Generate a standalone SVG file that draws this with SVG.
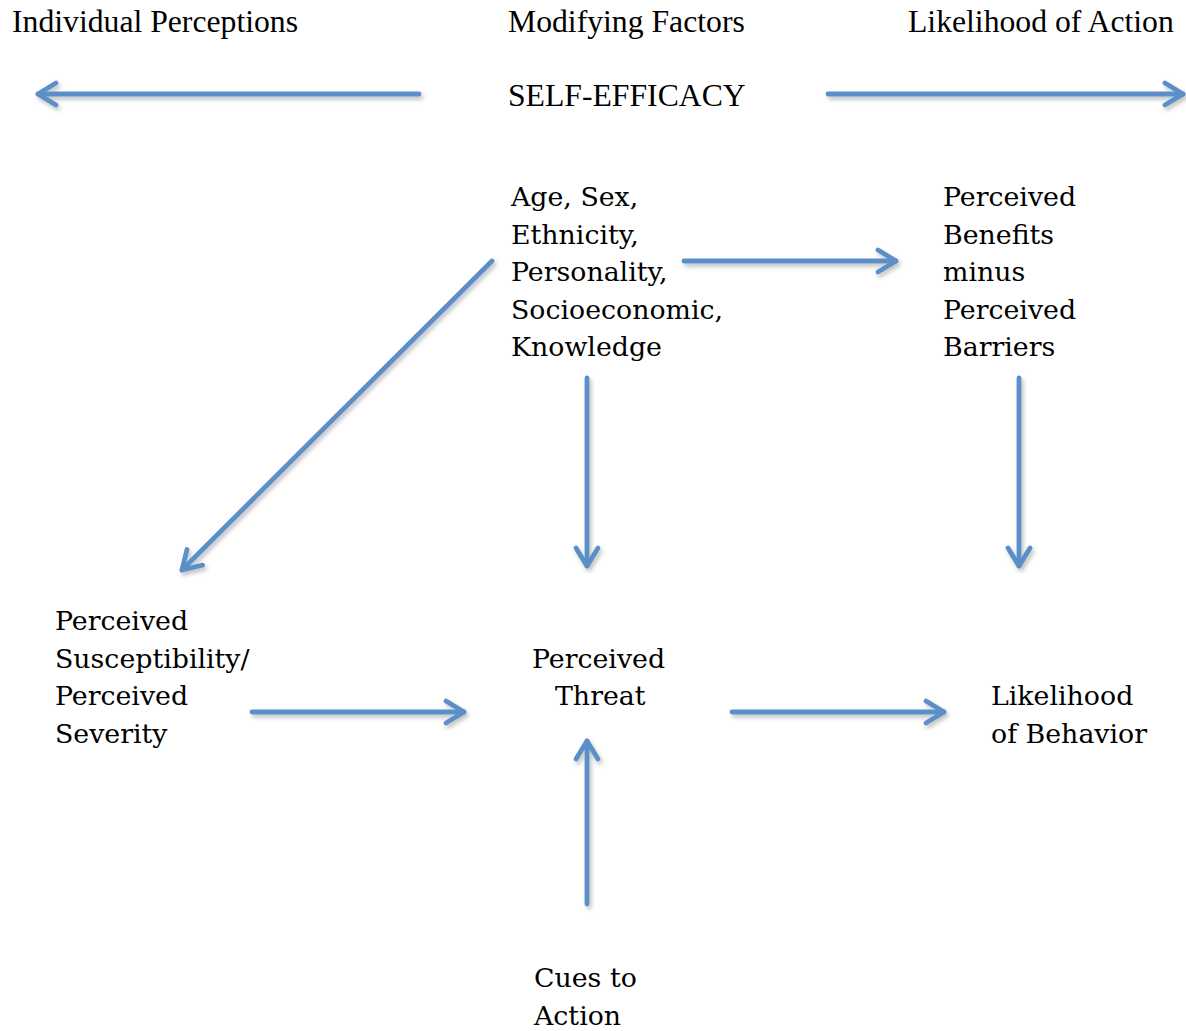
<svg xmlns="http://www.w3.org/2000/svg" width="1186" height="1031" viewBox="0 0 1186 1031">
<style>
.h{font-family:"Liberation Serif","Times New Roman",serif;font-size:31.7px;fill:#000}
.b{font-family:"DejaVu Serif","Liberation Serif",serif;font-size:26.8px;fill:#000}
.c line{stroke:#5b8fc8;stroke-width:4.8;stroke-linecap:round;marker-end:url(#ah)}
</style>
<defs>
<marker id="ah" markerUnits="userSpaceOnUse" orient="auto" markerWidth="40" markerHeight="40" refX="0" refY="0" viewBox="-25 -20 30 40" overflow="visible">
<path d="M-18,-11 L0,0 L-18,11" fill="none" stroke="#5b8fc8" stroke-width="4.8" stroke-linecap="round" stroke-linejoin="round"/>
</marker>
<filter id="sh" filterUnits="userSpaceOnUse" x="0" y="0" width="1186" height="1031">
<feDropShadow dx="2" dy="3" stdDeviation="2" flood-color="#000" flood-opacity="0.25"/>
</filter>
</defs>
<g id="header-individual"><text class="h" x="12" y="32">Individual Perceptions</text></g>
<g id="header-modifying"><text class="h" x="508" y="32">Modifying Factors</text></g>
<g id="header-likelihood"><text class="h" x="908" y="32">Likelihood of Action</text></g>
<g id="self-efficacy"><text class="h" x="508" y="106">SELF-EFFICACY</text></g>
<g id="modifying-factors"><text class="b" x="511" y="206">Age, Sex,</text><text class="b" x="511" y="243.5">Ethnicity,</text><text class="b" x="511" y="281">Personality,</text><text class="b" x="511" y="318.5">Socioeconomic,</text><text class="b" x="511" y="356">Knowledge</text></g>
<g id="benefits-barriers"><text class="b" x="943" y="206">Perceived</text><text class="b" x="943" y="243.5">Benefits</text><text class="b" x="943" y="281">minus</text><text class="b" x="943" y="318.5">Perceived</text><text class="b" x="943" y="356">Barriers</text></g>
<g id="susceptibility"><text class="b" x="55" y="630">Perceived</text><text class="b" x="55" y="668">Susceptibility/</text><text class="b" x="55" y="705">Perceived</text><text class="b" x="55" y="743">Severity</text></g>
<g id="threat"><text class="b" x="532" y="668">Perceived</text><text class="b" x="555" y="705">Threat</text></g>
<g id="behavior"><text class="b" x="991" y="705">Likelihood</text><text class="b" x="991" y="743">of Behavior</text></g>
<g id="cues"><text class="b" x="534" y="987">Cues to</text><text class="b" x="534" y="1025">Action</text></g>
<g class="c" id="connectors" filter="url(#sh)">
<line x1="419" y1="94" x2="38" y2="94"/>
<line x1="828" y1="94" x2="1183" y2="94"/>
<line x1="684" y1="261" x2="896" y2="261"/>
<line x1="492" y1="261" x2="182" y2="570"/>
<line x1="587" y1="378" x2="587" y2="566"/>
<line x1="1019" y1="378" x2="1019" y2="566"/>
<line x1="252" y1="712" x2="464" y2="712"/>
<line x1="732" y1="712" x2="944" y2="712"/>
<line x1="587" y1="904" x2="587" y2="741"/>
</g>
</svg>
